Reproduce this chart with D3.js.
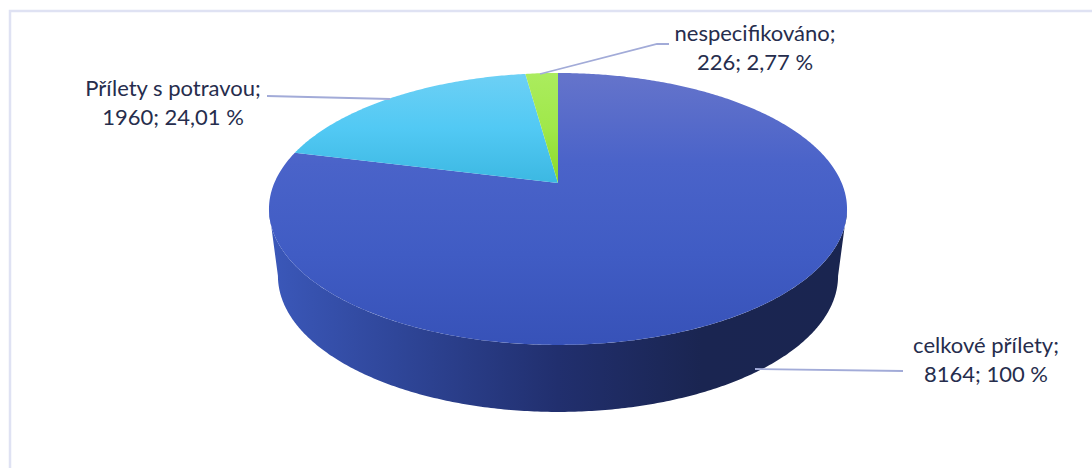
<!DOCTYPE html>
<html><head><meta charset="utf-8">
<script src="https://cdn.jsdelivr.net/npm/d3@7/dist/d3.min.js"></script>
<style>html,body{margin:0;padding:0;background:#fff;overflow:hidden}svg{display:block}</style>
</head><body><svg id="c" width="1092" height="468"></svg>
<script>
const categories = ["celkové přílety", "Přílety s potravou", "nespecifikováno"];
const values = [8164, 1960, 226];
const percents = ["100 %", "24,01 %", "2,77 %"];
const sliceColors = [["#6574cb", "#4a63c9", "#405cc4", "#3752b8"], ["#6dd0f5", "#52c9f4", "#3cb8e2"], ["#abec5e", "#a0e84a", "#8bd827"]];
const labelSpots = [[986, 353], [173, 96], [755, 41]];
const leaders = [[[903, 371], [755, 369]], [[267, 96], [390, 99]], [[669, 44], [657, 44], [540, 74]]];

const W = 1092, H = 468;
const cx = 558, apexY = 183, A = 283.7, B = 131, k = 0.191;
const depth = 67, bottomScale = 0.969;
const svg = d3.select("#c");
const defs = svg.append("defs");

const topY = 73, botY = 345, midY = 183;
sliceColors.forEach((c, i) => {
  const g = defs.append("linearGradient").attr("id", "g" + i)
    .attr("gradientUnits", "userSpaceOnUse").attr("x1", 0).attr("x2", 0).attr("y1", topY).attr("y2", i === 0 ? botY : midY);
  g.selectAll("stop").data(c).join("stop").attr("offset", (d, j) => j / (c.length - 1)).attr("stop-color", d => d);
});
const sideStops = [[0, "#3b58ba"], [0.22, "#2f4699"], [0.5, "#212f6e"], [0.75, "#1a2551"], [1, "#1a2550"]];
const sg = defs.append("linearGradient").attr("id", "side").attr("gradientUnits", "userSpaceOnUse")
  .attr("x1", 269).attr("x2", 847).attr("y1", 0).attr("y2", 0);
sg.selectAll("stop").data(sideStops).join("stop").attr("offset", d => d[0]).attr("stop-color", d => d[1]);

// Perspective projection of a flat disc: angle a is clockwise from the top
function project(a, r = 1) {
  const u = r * Math.sin(a), v = -r * Math.cos(a), w = 1 - k * v;
  return [cx + A * u / w, apexY + B * v / w];
}
const lower = p => [cx + (p[0] - cx) * bottomScale, p[1] + depth];
const line = d3.line();
function sweep(a0, a1) {
  const n = Math.max(2, Math.ceil(Math.abs(a1 - a0) / 0.01));
  return d3.range(n + 1).map(i => a0 + (a1 - a0) * i / n);
}

// Side wall
const e = Math.asin(k);
const wallAngles = sweep(Math.PI / 2 + e, 3 * Math.PI / 2 - e);
const wall = wallAngles.map(a => project(a)).concat(wallAngles.slice().reverse().map(a => lower(project(a))));
svg.append("path").attr("d", line(wall) + "Z").attr("fill", "url(#side)");

// Top face
const arcs = d3.pie().sort(null)(values);
svg.selectAll("path.slice").data(arcs).join("path").attr("class", "slice")
  .attr("d", d => line([[cx, apexY], ...sweep(d.startAngle, d.endAngle).map(a => project(a))]) + "Z")
  .attr("fill", (d, i) => `url(#g${i})`);

// Chart frame: top and left edges only
svg.append("path").attr("d", line([[10, H], [10, 11], [W, 11]]))
  .attr("fill", "none").attr("stroke", "#dfe2f3").attr("stroke-width", 2.5);

// Leader lines
svg.selectAll("path.leader").data(leaders).join("path").attr("class", "leader")
  .attr("d", d => line(d)).attr("fill", "none").attr("stroke", "#a2abd8").attr("stroke-width", 1.8);

// Labels
const labels = svg.selectAll("g.lab").data(categories).join("g").attr("class", "lab")
  .attr("transform", (d, i) => `translate(${labelSpots[i]})`)
  .attr("font-family", "Lato, sans-serif").attr("font-size", 22).attr("fill", "#262d4d").attr("text-anchor", "middle");
labels.append("text").text(d => d + ";");
labels.append("text").attr("y", 29).text((d, i) => `${values[i]}; ${percents[i]}`);
</script></body></html>
